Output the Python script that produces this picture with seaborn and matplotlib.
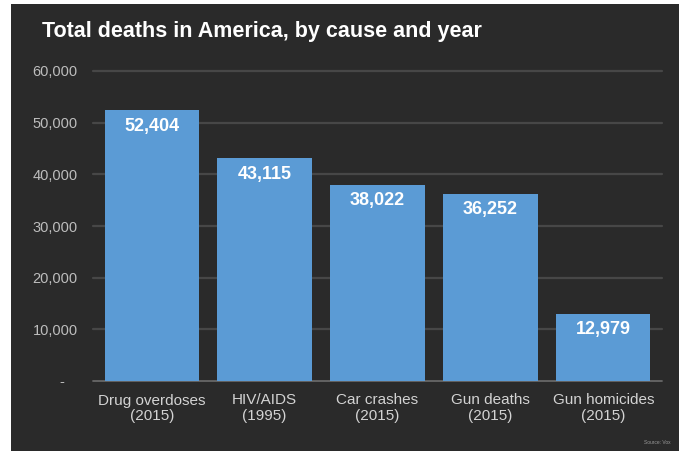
import matplotlib
matplotlib.use("Agg")
import matplotlib.pyplot as plt
import seaborn as sns
import pandas as pd
from matplotlib.patches import Rectangle

causes = ["Drug overdoses", "HIV/AIDS", "Car crashes", "Gun deaths", "Gun homicides"]
years = ["2015", "1995", "2015", "2015", "2015"]
deaths = [52404, 43115, 38022, 36252, 12979]
y_ticks = [0, 10000, 20000, 30000, 40000, 50000, 60000]
y_tick_labels = ["-   ", "10,000", "20,000", "30,000", "40,000", "50,000", "60,000"]
title = "Total deaths in America, by cause and year"
source = "Source: Vox"

labels = [f"{c}\n({y})" for c, y in zip(causes, years)]
df = pd.DataFrame({"label": labels, "deaths": deaths})

sns.set_theme(style="dark")
plt.rcParams["font.family"] = ["Liberation Sans", "DejaVu Sans"]

BG = "#2a2a2a"
BAR = "#5b9bd5"

fig = plt.figure(figsize=(6.82, 4.51), dpi=100, facecolor="white")
fig.patches.append(Rectangle((11 / 682, 0), (679 - 11) / 682, (451 - 4) / 451,
                             transform=fig.transFigure, facecolor=BG,
                             edgecolor="none", zorder=-10))

ax = fig.add_axes([93 / 682, 1 - 381 / 451, (662 - 93) / 682, (381 - 71) / 451])
ax.set_facecolor("none")
ax.set_zorder(1)

sns.barplot(data=df, x="label", y="deaths", color=BAR, saturation=1,
            width=0.835, ax=ax, zorder=3, edgecolor="none", linewidth=0)

ax.set_xlim(-0.52, 4.52)
ax.set_ylim(0, 60000)
ax.set_yticks(y_ticks)
ax.set_yticklabels(y_tick_labels)
ax.set_xlabel("")
ax.set_ylabel("")

for y in y_ticks:
    ax.axhline(y, color="#474747" if y else "#676767", lw=1.6 if y else 1.3,
               zorder=1, clip_on=False)

for sp in ax.spines.values():
    sp.set_visible(False)

ax.tick_params(axis="y", colors="#bdbdbd", labelsize=10.5, length=0, pad=11)
ax.tick_params(axis="x", colors="#d3d3d3", labelsize=11, length=0, pad=9)
for t in ax.get_xticklabels():
    t.set_linespacing(1.15)

for i, v in enumerate(deaths):
    ax.text(i, v - 3100, f"{v:,}", ha="center", va="center", color="white",
            fontsize=13, fontweight="bold", zorder=5)

fig.text(42 / 682, 1 - 32 / 451, title, color="white", fontsize=15.5,
         fontweight="bold", ha="left", va="center")
fig.text(671 / 682, 1 - 443 / 451, source, color="#9a9a9a", fontsize=3.5,
         ha="right", va="center")

fig.savefig("out.png", dpi=100, facecolor="white")
